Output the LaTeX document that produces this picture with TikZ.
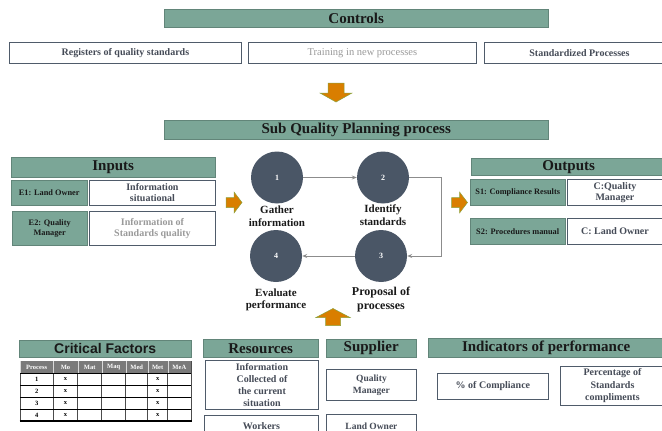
\documentclass[tikz,border=0pt]{standalone}
\usepackage{fontspec}
\setmainfont{Liberation Serif}
\newfontfamily\arialfont{Liberation Sans}
\usetikzlibrary{arrows.meta, positioning, calc}

\definecolor{headgreen}{HTML}{7BA697}
\definecolor{boxedge}{HTML}{4F5B6A}
\definecolor{circfill}{HTML}{4A5666}
\definecolor{arroworange}{HTML}{D97E00}
\definecolor{arrowedge}{HTML}{8BA33C}
\definecolor{softtext}{HTML}{9A9A9A}
\definecolor{darktext}{HTML}{454B57}
\definecolor{linkgray}{HTML}{8C8C8C}
\definecolor{tablehead}{HTML}{7A7A7A}

\begin{document}
\begin{tikzpicture}[x=1pt, y=-1pt,
    header/.style={draw=headgreen!80!black, fill=headgreen, anchor=north west,
        inner sep=0pt, text=black!90, font=\bfseries\fontsize{15}{17}\selectfont},
    tag/.style={draw=headgreen!80!black, fill=headgreen, anchor=north west,
        inner sep=1pt, align=center, text=black!90,
        font=\bfseries\fontsize{8.3}{10}\selectfont},
    infobox/.style={draw=boxedge, line width=0.9pt, fill=white, anchor=north west,
        inner sep=0.5pt, align=center, text=darktext,
        font=\bfseries\fontsize{10}{11}\selectfont},
    stage/.style={circle, fill=circfill, minimum size=52pt, inner sep=0pt,
        text=white, font=\bfseries\fontsize{8}{9}\selectfont},
    stagelabel/.style={align=center, inner sep=0pt, text=black!90,
        font=\bfseries\fontsize{11}{12.5}\selectfont},
    link/.style={draw=linkgray, line width=0.8pt, -{Stealth[length=5pt, width=4pt]}},
    tablehd/.style={inner sep=0pt, text=white, font=\bfseries\fontsize{6.5}{7}\selectfont},
    cell/.style={inner sep=0pt, text=black, font=\bfseries\fontsize{6.5}{7}\selectfont}]

    \clip[use as bounding box] (0,0) rectangle (662,431);

    % controls
    \node[header, minimum width=384pt, minimum height=18pt] (controls) at (164,9) {Controls};
    \node[infobox, minimum width=232pt, minimum height=21pt] (registers) at (9,42)
        {Registers of quality standards};
    \node[infobox, text=softtext, font=\fontsize{10.5}{11}\selectfont,
        minimum width=228pt, minimum height=21pt] (training) at (248,42)
        {Training in new processes};
    \node[infobox, minimum width=190pt, minimum height=21pt] (standard) at (484,42)
        {Standardized Processes};

    % process
    \node[header, minimum width=384pt, minimum height=19pt] (subproc) at (164,120)
        {Sub Quality Planning process};

    \node[stage] (s1) at (277,177.5) {1};
    \node[stage] (s2) at (383,177.5) {2};
    \node[stage] (s3) at (381,256) {3};
    \node[stage] (s4) at (276,256) {4};

    \node[stagelabel, below=2pt of s1] (l1) {Gather\\information};
    \node[stagelabel, below=1pt of s2] (l2) {Identify\\standards};
    \node[stagelabel, below=5pt of s3, font=\bfseries\fontsize{12}{14}\selectfont] (l3)
        {Proposal of\\processes};
    \node[stagelabel, below=6pt of s4] (l4) {Evaluate\\performance};

    \draw[link] (s1) -- (s2);
    \draw[link] (s2.east) -- ++(32,0) |- (s3.east);
    \draw[link] (s3) -- (s4);

    % inputs
    \node[header, minimum width=204pt, minimum height=20pt] (inputs) at (11,157) {Inputs};
    \node[tag, minimum width=76pt, minimum height=25pt] (e1) at (11,180) {E1: Land Owner};
    \node[infobox, minimum width=126pt, minimum height=25pt] (e1info) at (89,180)
        {Information\\situational};
    \node[tag, minimum width=75pt, minimum height=34pt] (e2) at (12,211) {E2: Quality\\Manager};
    \node[infobox, text=softtext, minimum width=126pt, minimum height=34pt] (e2info) at (89,211)
        {Information of\\Standards quality};

    % outputs
    \node[header, minimum width=195pt, minimum height=17pt] (outputs) at (471,158) {Outputs};
    \node[tag, minimum width=95pt, minimum height=26pt] (o1) at (470,179)
        {S1: Compliance Results};
    \node[infobox, minimum width=95pt, minimum height=26pt] (o1info) at (567,179)
        {C:Quality\\Manager};
    \node[infobox, font=\bfseries\fontsize{10}{11}\selectfont,
        minimum width=95pt, minimum height=26pt] (o2info) at (567,218) {C: Land Owner};
    \node[tag, minimum width=95pt, minimum height=26pt] (o2) at (470,218)
        {S2: Procedures manual};

    % orange arrows
    \coordinate (ctrlarrow) at (336,92.5);
    \coordinate (resarrow) at (333,317);
    \coordinate (inarrow) at (234,202.5);
    \coordinate (outarrow) at (459.5,202.5);
    \foreach \CENTER/\ANG/\LEN/\HW/\SW/\HL in {ctrlarrow/-90/19/16/8/9,
        resarrow/90/17/17/7.5/9, inarrow/0/16/10.5/5/8, outarrow/0/16/10.5/5/8}{
        \begin{scope}[shift = (\CENTER), rotate = \ANG]
            \filldraw[fill=arroworange, draw=arrowedge, line width=0.5pt]
                (-\LEN/2,-\SW) -- (\LEN/2-\HL,-\SW) -- (\LEN/2-\HL,-\HW) -- (\LEN/2,0)
                -- (\LEN/2-\HL,\HW) -- (\LEN/2-\HL,\SW) -- (-\LEN/2,\SW) -- cycle;
        \end{scope}}

    % critical factors
    \node[header, font=\arialfont\bfseries\fontsize{14}{16}\selectfont,
        minimum width=172pt, minimum height=17pt] (critical) at (19,340)
        {Critical Factors};
    \fill[tablehead] (20,361) rectangle (191,373);
    \fill[white] (20,373) rectangle (191,421);
    \foreach \NAME/\XA/\XB in {Process/20/53.3, Mo/53.3/77.7, Mat/77.7/101.7,
        Maq/101.7/125.7, Med/125.7/147.7, Met/147.7/167.7, MeA/167.7/191}{
        \node[tablehd] (h\NAME) at ({(\XA+\XB)/2},367) {\NAME};
        \draw[black!70, line width=0.6pt] (\XA,373) -- (\XA,421);
        \draw[white!70!gray, line width=0.4pt] (\XA,361) -- (\XA,373);}
    \draw[black!70, line width=0.6pt] (191,361) -- (191,421);
    \foreach \ROW in {1,...,4}{
        \node[cell] (p\ROW) at (36.7,{367+12*\ROW}) {\ROW};
        \node[cell] (mo\ROW) at (65.5,{367+12*\ROW}) {x};
        \node[cell] (met\ROW) at (157.7,{367+12*\ROW}) {x};
        \draw[black, line width=0.6pt] (20,{361+12*\ROW}) -- (191,{361+12*\ROW});}
    \draw[black, line width=1.5pt] (19.5,421) -- (191.5,421);

    % resources
    \node[header, minimum width=115pt, minimum height=18pt] (resources) at (203,339)
        {Resources};
    \node[infobox, font=\bfseries\fontsize{10}{12}\selectfont,
        minimum width=113pt, minimum height=49pt] (collected) at (205,360)
        {Information\\Collected of\\the current\\situation};
    \node[infobox, minimum width=114pt, minimum height=22pt] (workers) at (204,415) {Workers};

    % supplier
    \node[header, minimum width=90pt, minimum height=18pt] (supplier) at (326,339)
        {Supplier};
    \node[infobox, font=\bfseries\fontsize{9.5}{12}\selectfont,
        minimum width=90pt, minimum height=31pt] (qmanager) at (326,369)
        {Quality\\Manager};
    \node[infobox, font=\bfseries\fontsize{9.5}{11}\selectfont,
        minimum width=90pt, minimum height=24pt] (lowner) at (326,414) {Land Owner};

    % indicators
    \node[header, minimum width=236pt, minimum height=19pt] (indicators) at (428,338)
        {Indicators of performance};
    \node[infobox, minimum width=111pt, minimum height=26pt] (compliance) at (437,373)
        {\% of Compliance};
    \node[infobox, font=\bfseries\fontsize{10}{12.5}\selectfont,
        minimum width=104pt, minimum height=39pt] (percentage) at (560,366)
        {Percentage of\\Standards\\compliments};

\end{tikzpicture}
\end{document}
